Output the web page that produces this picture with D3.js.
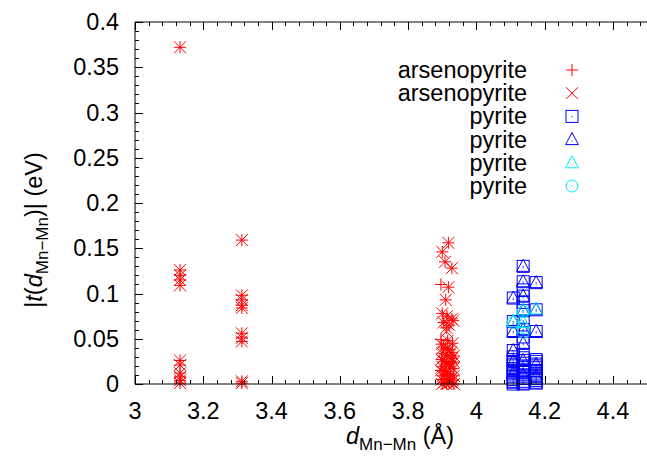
<!DOCTYPE html>
<html>
<head>
<meta charset="utf-8">
<script src="https://cdn.jsdelivr.net/npm/d3@7"></script>
<style>
  body { margin: 0; background: #fff; }
  svg text { font-family: "Liberation Sans", Arial, Helvetica, sans-serif; }
</style>
</head>
<body>
<div id="chart"></div>
<script>
// arsenopyrite, "+" symbols
const arsenoPlus = [
  [3.132, 0.372], [3.132, 0.126], [3.132, 0.120], [3.132, 0.115], [3.132, 0.109],
  [3.132, 0.026], [3.132, 0.021], [3.132, 0.012], [3.132, 0.008], [3.132, 0.004], [3.132, 0.001],
  [3.313, 0.159], [3.313, 0.098], [3.313, 0.093], [3.313, 0.087], [3.313, 0.084],
  [3.313, 0.056], [3.313, 0.051], [3.313, 0.047], [3.313, 0.003], [3.313, 0.001],
  [3.918, 0.156], [3.900, 0.146], [3.908, 0.135], [3.928, 0.128], [3.896, 0.110], [3.918, 0.107],
  [3.910, 0.093], [3.900, 0.078], [3.914, 0.075], [3.928, 0.072], [3.904, 0.068], [3.920, 0.065],
  [3.932, 0.070], [3.912, 0.062], [3.896, 0.049], [3.916, 0.048], [3.930, 0.045], [3.904, 0.041],
  [3.922, 0.038], [3.900, 0.034], [3.914, 0.031], [3.928, 0.028], [3.906, 0.025], [3.920, 0.022],
  [3.900, 0.019], [3.932, 0.017], [3.912, 0.014], [3.924, 0.011], [3.902, 0.009], [3.916, 0.006],
  [3.930, 0.004], [3.906, 0.002], [3.920, 0.001], [3.900, 0.000],
  [3.898, 0.044], [3.910, 0.039], [3.926, 0.035], [3.934, 0.031], [3.898, 0.027], [3.912, 0.023],
  [3.934, 0.024], [3.924, 0.019], [3.896, 0.015], [3.908, 0.011], [3.934, 0.009], [3.898, 0.005],
  [3.926, 0.002], [3.912, 0.000], [3.934, 0.000]
];
// arsenopyrite, "x" symbols
const arsenoCross = [
  [3.132, 0.372], [3.132, 0.126], [3.132, 0.120], [3.132, 0.115], [3.132, 0.109],
  [3.132, 0.026], [3.132, 0.021], [3.132, 0.012], [3.132, 0.008], [3.132, 0.004], [3.132, 0.001],
  [3.313, 0.159], [3.313, 0.098], [3.313, 0.093], [3.313, 0.087], [3.313, 0.084],
  [3.313, 0.056], [3.313, 0.051], [3.313, 0.047], [3.313, 0.003], [3.313, 0.001],
  [3.918, 0.156], [3.900, 0.146], [3.908, 0.135], [3.928, 0.128], [3.918, 0.107],
  [3.910, 0.093], [3.900, 0.078], [3.914, 0.075], [3.928, 0.072], [3.904, 0.068], [3.920, 0.065],
  [3.932, 0.070], [3.912, 0.062], [3.912, 0.058], [3.916, 0.048], [3.930, 0.045], [3.904, 0.041],
  [3.922, 0.038], [3.900, 0.034], [3.914, 0.031], [3.928, 0.028], [3.906, 0.025], [3.920, 0.022],
  [3.900, 0.019], [3.932, 0.017], [3.912, 0.014], [3.924, 0.011], [3.902, 0.009], [3.916, 0.006],
  [3.930, 0.004], [3.906, 0.002], [3.920, 0.001], [3.900, 0.000],
  [3.898, 0.044], [3.910, 0.039], [3.926, 0.035], [3.934, 0.031], [3.898, 0.027], [3.912, 0.023],
  [3.934, 0.024], [3.924, 0.019], [3.896, 0.015], [3.908, 0.011], [3.934, 0.009], [3.898, 0.005],
  [3.926, 0.002], [3.912, 0.000], [3.934, 0.000]
];
// pyrite, blue squares
const pyriteSquare = [
  [4.108, 0.095], [4.108, 0.069], [4.108, 0.058], [4.108, 0.037], [4.108, 0.030], [4.108, 0.025],
  [4.108, 0.020], [4.108, 0.015], [4.108, 0.012], [4.108, 0.008], [4.108, 0.005], [4.108, 0.002], [4.108, 0.000],
  [4.108, 0.027], [4.108, 0.022], [4.108, 0.017], [4.108, 0.010], [4.108, 0.003],
  [4.137, 0.130], [4.137, 0.113], [4.137, 0.104], [4.137, 0.097], [4.137, 0.090], [4.137, 0.081],
  [4.137, 0.070], [4.137, 0.060], [4.137, 0.052], [4.137, 0.045], [4.137, 0.032], [4.137, 0.026],
  [4.137, 0.020], [4.137, 0.015], [4.137, 0.010], [4.137, 0.006], [4.137, 0.003], [4.137, 0.000],
  [4.137, 0.029], [4.137, 0.023], [4.137, 0.018], [4.137, 0.013], [4.137, 0.008], [4.137, 0.001],
  [4.175, 0.112], [4.175, 0.082], [4.175, 0.058], [4.175, 0.027], [4.175, 0.022], [4.175, 0.018],
  [4.175, 0.012], [4.175, 0.008], [4.175, 0.004], [4.175, 0.001],
  [4.175, 0.025], [4.175, 0.020], [4.175, 0.015], [4.175, 0.010], [4.175, 0.006], [4.175, 0.002]
];
// pyrite, blue triangles
const pyriteTriBlue = [
  [4.108, 0.095], [4.108, 0.069], [4.108, 0.058], [4.108, 0.037], [4.108, 0.025], [4.108, 0.012],
  [4.137, 0.130], [4.137, 0.113], [4.137, 0.097], [4.137, 0.081], [4.137, 0.060], [4.137, 0.045],
  [4.137, 0.026], [4.137, 0.010],
  [4.175, 0.112], [4.175, 0.082], [4.175, 0.058], [4.175, 0.022], [4.175, 0.008]
];
// pyrite, cyan triangles
const pyriteTriCyan = [
  [4.137, 0.082], [4.175, 0.083], [4.108, 0.069], [4.137, 0.068]
];
// pyrite, cyan circles
const pyriteCircle = [
  [4.137, 0.080], [4.108, 0.068], [4.137, 0.062], [4.137, 0.057]
];

const legendLabels = ["arsenopyrite", "arsenopyrite", "pyrite", "pyrite", "pyrite", "pyrite"];
const xTicks = [3, 3.2, 3.4, 3.6, 3.8, 4, 4.2, 4.4];
const yTicks = [0, 0.05, 0.1, 0.15, 0.2, 0.25, 0.3, 0.35, 0.4];

const width = 647, height = 456;
const margin = { top: 22, left: 135, bottom: 72 };
const plotW = 341.4 * 1.5; // x runs to 4.5, right edge falls just off the picture
const fontSize = 23.5;

const svg = d3.select("#chart").append("svg")
  .attr("width", width)
  .attr("height", height);

const x = d3.scaleLinear().domain([3, 4.5]).range([margin.left, margin.left + plotW]);
const y = d3.scaleLinear().domain([0, 0.4]).range([height - margin.bottom, margin.top]);

// symbol drawing, gnuplot style
const S = 6;
function drawPoint(g, type, color, cx, cy) {
  const p = g.append("g").attr("transform", `translate(${cx},${cy})`)
    .attr("stroke", color).attr("fill", "none").attr("stroke-width", 1);
  if (type === "plus") {
    p.append("path").attr("d", `M${-S},0H${S}M0,${-S}V${S}`);
  } else if (type === "cross") {
    p.append("path").attr("d", `M${-S},${-S}L${S},${S}M${-S},${S}L${S},${-S}`);
  } else if (type === "square") {
    p.append("rect").attr("x", -S).attr("y", -S).attr("width", 2 * S).attr("height", 2 * S);
    p.append("rect").attr("x", -0.5).attr("y", -0.5).attr("width", 1).attr("height", 1).attr("fill", color).attr("stroke", "none");
  } else if (type === "triangle") {
    p.append("path").attr("d", `M0,${-S - 1}L${S + 0.5},${S - 1}L${-S - 0.5},${S - 1}Z`);
    p.append("rect").attr("x", -0.5).attr("y", 1).attr("width", 1).attr("height", 1).attr("fill", color).attr("stroke", "none");
  } else if (type === "circle") {
    p.append("circle").attr("r", S);
    p.append("rect").attr("x", -0.5).attr("y", -0.5).attr("width", 1).attr("height", 1).attr("fill", color).attr("stroke", "none");
  }
}

const series = [
  { data: arsenoPlus, type: "plus", color: "#ff0000" },
  { data: arsenoCross, type: "cross", color: "#ff0000" },
  { data: pyriteSquare, type: "square", color: "#0000ff" },
  { data: pyriteTriBlue, type: "triangle", color: "#0000ff" },
  { data: pyriteTriCyan, type: "triangle", color: "#00eeee" },
  { data: pyriteCircle, type: "circle", color: "#00eeee" }
];

const marks = svg.append("g");
series.forEach(s => {
  s.data.forEach(d => drawPoint(marks, s.type, s.color, x(d[0]), y(d[1])));
});

// axes frame with inward ticks (mirrored on top)
const axes = svg.append("g").attr("stroke", "#000").attr("stroke-width", 1).attr("fill", "none");
const x0 = x(3), x1 = x(4.5), y0 = y(0), y1 = y(0.4);
axes.append("path").attr("d", `M${x1},${y1}H${x0}V${y0}H${x1}`);

const xMinor = d3.range(0, 38).map(i => 3 + i * 0.04);
xMinor.forEach(v => {
  const major = Math.abs((v - 3) / 0.2 - Math.round((v - 3) / 0.2)) < 1e-6;
  const len = major ? 8 : 4;
  const px = Math.round(x(v)) + 0.5;
  axes.append("path").attr("d", `M${px},${y0}v${-len}M${px},${y1}v${len}`);
});
const yMinor = d3.range(0, 41).map(i => i * 0.01);
yMinor.forEach(v => {
  const isMajor = Math.abs(v / 0.05 - Math.round(v / 0.05)) < 1e-6;
  const len = isMajor ? 8 : 4;
  const py = Math.round(y(v)) + 0.5;
  axes.append("path").attr("d", `M${x0},${py}h${len}`);
});

// tick labels
svg.append("g").selectAll("text").data(xTicks).join("text")
  .attr("x", d => x(d))
  .attr("y", y0 + 35)
  .attr("text-anchor", "middle")
  .attr("font-size", fontSize)
  .text(d => d);

svg.append("g").selectAll("text").data(yTicks).join("text")
  .attr("x", x0 - 16)
  .attr("y", d => y(d) + 8)
  .attr("text-anchor", "end")
  .attr("font-size", fontSize)
  .text(d => d);

// axis titles
const xt = svg.append("text")
  .attr("x", 346).attr("y", 444)
  .attr("font-size", fontSize);
xt.append("tspan").attr("font-style", "italic").text("d");
xt.append("tspan").attr("font-size", 17).attr("dy", 6).text("Mn\u2212Mn");
xt.append("tspan").attr("dy", -6).text(" (\u00c5)");

const yt = svg.append("text")
  .attr("transform", "translate(42,230) rotate(-90)")
  .attr("text-anchor", "middle")
  .attr("font-size", fontSize);
yt.append("tspan").text("|");
yt.append("tspan").attr("font-style", "italic").text("t");
yt.append("tspan").text("(");
yt.append("tspan").attr("font-style", "italic").text("d");
yt.append("tspan").attr("font-size", 17).attr("dy", 6).text("Mn\u2212Mn");
yt.append("tspan").attr("dy", -6).text(")| (eV)");

// legend
const legend = svg.append("g");
series.forEach((s, i) => {
  const ly = 70 + i * 23.2;
  legend.append("text")
    .attr("x", 527).attr("y", ly + 8)
    .attr("text-anchor", "end")
    .attr("font-size", fontSize)
    .text(legendLabels[i]);
  drawPoint(legend, s.type, s.color, 572, ly);
});
</script>
</body>
</html>
